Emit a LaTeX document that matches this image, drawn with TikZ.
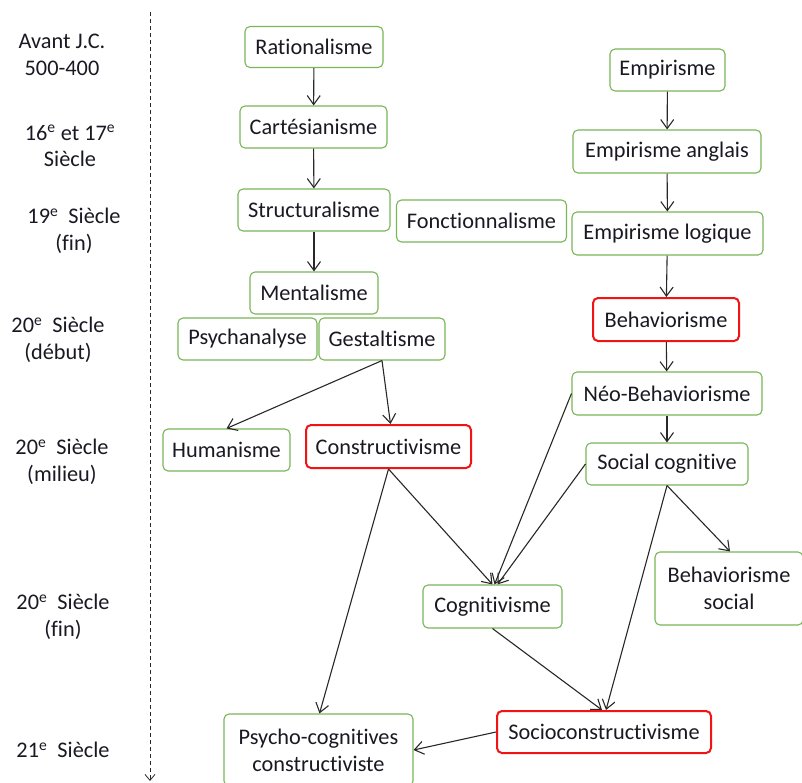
\documentclass[tikz,border=0pt]{standalone}
\usepackage{fontspec}
\setmainfont[Ligatures=NoCommon]{Carlito}
\usetikzlibrary{arrows.meta}
\definecolor{gbox}{RGB}{122,182,88}
\definecolor{rbox}{RGB}{240,20,20}
\definecolor{txt}{RGB}{25,25,35}
\definecolor{lnc}{RGB}{40,40,40}
\tikzset{
  gnode/.style={draw=gbox,line width=1.1pt,rounded corners=5pt,fill=white,text=txt,inner sep=0pt,align=center,font=\fontsize{22.3}{27}\selectfont},
  rnode/.style={gnode,draw=rbox,line width=2pt},
  lab/.style={text=txt,align=center,inner sep=0pt,font=\fontsize{22.3}{26.5}\selectfont},
  conn/.style={draw=lnc,line width=1.1pt,-{Straight Barb[length=9pt,width=13pt,line width=1.1pt]}}
}
\newcommand{\ee}{\textsuperscript{e}}
\begin{document}
\begin{tikzpicture}[x=1pt,y=-1pt]
\useasboundingbox (0,0) rectangle (802,782);
% timeline
\coordinate (tl1) at (150,12);
\coordinate (tl2) at (150,781);
\draw[lnc,line width=0.9pt,dash pattern=on 4pt off 3pt,-{Straight Barb[length=6pt,width=10pt,line width=0.8pt]}] (tl1) -- (tl2);
\node[lab] (l1) at (62,55) {Avant J.C.\\500-400};
\node[lab] (l2) at (70,146) {16\ee{} et 17\ee\\Siècle};
\node[lab] (l3) at (74,231) {19\ee\ \ Siècle\\(fin)};
\node[lab] (l4) at (58,340) {20\ee\ \ Siècle\\(début)};
\node[lab] (l5) at (62,462) {20\ee\ \ Siècle\\(milieu)};
\node[lab] (l6) at (63,617) {20\ee\ \ Siècle\\(fin)};
\node[lab] (l7) at (63,750) {21\ee\ \ Siècle};
% nodes
\node[gnode,minimum width=138pt,minimum height=41pt] (rat) at (314,47) {Rationalisme};
\node[gnode,minimum width=147pt,minimum height=42pt] (car) at (313.5,127) {Cartésianisme};
\node[gnode,minimum width=152pt,minimum height=42pt] (str) at (314,210) {Structuralisme};
\node[gnode,minimum width=170pt,minimum height=42pt] (fon) at (481.5,221) {Fonctionnalisme};
\node[gnode,minimum width=115pt,minimum height=42pt] (emp) at (667.5,70) {Empirisme};
\node[gnode,minimum width=188pt,minimum height=43pt] (ang) at (667,151.5) {Empirisme anglais};
\node[gnode,minimum width=191pt,minimum height=43pt] (log) at (667.5,233.5) {Empirisme logique};
\node[gnode,minimum width=128pt,minimum height=42pt] (men) at (314,293) {Mentalisme};
\node[gnode,minimum width=139pt,minimum height=42pt] (psy) at (247.5,339) {Psychanalyse};
\node[gnode,minimum width=126pt,minimum height=42pt] (ges) at (382,339) {Gestaltisme};
\node[rnode,minimum width=146pt,minimum height=43pt] (beh) at (666,319.5) {Behaviorisme};
\node[gnode,minimum width=190pt,minimum height=43pt] (neo) at (667,393.5) {Néo-Behaviorisme};
\node[gnode,minimum width=162pt,minimum height=42pt] (soc) at (667,464) {Social cognitive};
\node[gnode,minimum width=127pt,minimum height=42pt] (hum) at (226.5,450) {Humanisme};
\node[rnode,minimum width=165pt,minimum height=43pt] (con) at (388.5,446.5) {Constructivisme};
\node[gnode,minimum width=139pt,minimum height=43pt] (cog) at (492.5,606.5) {Cognitivisme};
\node[gnode,minimum width=148pt,minimum height=73pt] (bso) at (729,588.5) {Behaviorisme\\social};
\node[rnode,minimum width=214pt,minimum height=42pt] (sco) at (604,732) {Socioconstructivisme};
\node[gnode,minimum width=189pt,minimum height=72pt] (pcc) at (318.5,750) {Psycho-cognitives\\constructiviste};
% connectors
\draw[conn] (rat) -- (car);
\draw[conn] (car) -- (str);
\draw[conn] (str) -- (men);
\draw[conn] (emp) -- (ang);
\draw[conn] (ang) -- (log);
\draw[conn] (log) -- (beh);
\draw[conn] (beh) -- (neo);
\draw[conn] (neo) -- (soc);
\draw[conn] (ges.south) -- (hum.north);
\draw[conn] (ges.south) -- ([xshift=2pt]con.north);
\draw[conn] (con.south) -- (cog.north);
\draw[conn] (con.south) -- ([xshift=1pt]pcc.north);
\draw[conn] (neo.west) -- ([xshift=2pt]cog.north);
\draw[conn] (soc.west) -- ([xshift=5pt]cog.north);
\draw[conn] (soc.south) -- ([xshift=2pt]sco.north);
\draw[conn] (soc.south) -- ([xshift=1pt]bso.north);
\draw[conn] (cog.south) -- ([xshift=-2pt]sco.north);
\draw[conn] (sco.west) -- (pcc.east);
\end{tikzpicture}
\end{document}
